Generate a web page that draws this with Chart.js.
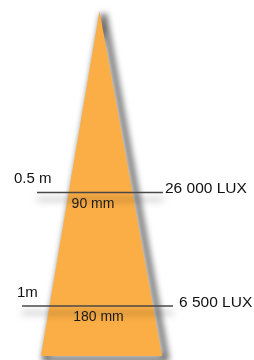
<!DOCTYPE html>
<html lang="en">
<head>
  <meta charset="UTF-8">
  <title>Light cone</title>
  <script src="https://cdn.jsdelivr.net/npm/chart.js@4/dist/chart.umd.min.js"></script>
  <style>
    html, body { margin: 0; padding: 0; background: #fff; overflow: hidden; }
    canvas { display: block; }
  </style>
</head>
<body>
<canvas id="myChart" width="254" height="360"></canvas>
<script>
    // measurements shown on the drawing
    const distances = [0.5, 1];            // metres from the lamp
    const distanceLabels = ['0.5 m', '1m'];
    const spotSizes = [90, 180];           // spot diameter, mm
    const luxValues = [26000, 6500];

    // drawing geometry (x in drawing units round the beam axis, y in metres)
    const cone = { tip: -0.30, base: 1.22, left: -58.5, right: 62.5 };
    const lineSpans = [[-62.5, 63.5], [-77.5, 73.5]];
    const labelX = [14, 17];       // px, left labels
    const luxX = [165, 179];       // px, right labels
    const spotX = [93, 98.5];      // px, centre of mm labels

    const FONT = '"Liberation Sans", Arial, Helvetica, sans-serif';

    function fmtLux(n) {
        return String(n).replace(/\B(?=(\d{3})+(?!\d))/g, ' ') + ' LUX';
    }

    const coneData = [
        {x: 0, y: cone.tip},
        {x: cone.right, y: cone.base},
        {x: cone.left, y: cone.base},
        {x: 0, y: cone.tip}
    ];

    const lineSets = distances.map((d, i) => ({
        label: 'line',
        data: [{x: lineSpans[i][0], y: d}, {x: lineSpans[i][1], y: d}],
        showLine: true,
        borderColor: '#484848',
        borderWidth: 1.5,
        pointRadius: 0,
        fill: false,
        clip: false,
        order: 1
    }));

    const shadows = {
        id: 'shadows',
        beforeDatasetDraw: (chart, args) => {
            const ctx = chart.ctx;
            const kind = chart.data.datasets[args.index].label;
            ctx.save();
            if (kind === 'beamShadow') {
                ctx.translate(4, 3);
                ctx.filter = 'blur(3px)';
            } else if (kind === 'line') {
                ctx.shadowColor = 'rgba(0,0,0,0.55)';
                ctx.shadowBlur = 7;
                ctx.shadowOffsetY = 7;
            }
        },
        afterDatasetDraw: (chart) => {
            chart.ctx.restore();
        },
        afterDraw: (chart) => {
            const ctx = chart.ctx;
            const ys = chart.scales.y;
            ctx.save();
            ctx.textBaseline = 'alphabetic';
            distances.forEach((d, i) => {
                const py = ys.getPixelForValue(d);
                ctx.fillStyle = '#111';
                ctx.font = '15px ' + FONT;
                ctx.textAlign = 'left';
                ctx.fillText(distanceLabels[i], labelX[i], py - 9);
                ctx.font = '15.5px ' + FONT;
                ctx.fillText(fmtLux(luxValues[i]), luxX[i], py + 1);
                ctx.fillStyle = '#1a1a1a';
                ctx.font = '14px ' + FONT;
                ctx.textAlign = 'center';
                ctx.fillText(spotSizes[i] + ' mm', spotX[i], py + 15.5);
            });
            ctx.restore();
        }
    };

    var ctx = document.getElementById('myChart');
    var myChart = new Chart(ctx, {
        type: 'scatter',
        data: {
            datasets: [{
                label: 'beam',
                data: coneData,
                showLine: true,
                borderWidth: 0,
                borderColor: 'rgba(0,0,0,0)',
                backgroundColor: '#fbae45',
                fill: 'shape',
                pointRadius: 0,
                tension: 0,
                clip: false,
                order: 3
            }, {
                label: 'beamShadow',
                data: coneData,
                showLine: true,
                borderWidth: 6,
                borderColor: 'rgba(0,0,0,0.6)',
                borderJoinStyle: 'round',
                fill: false,
                pointRadius: 0,
                tension: 0,
                clip: false,
                order: 4
            }].concat(lineSets)
        },
        options: {
            responsive: false,
            animation: false,
            layout: { padding: 0 },
            plugins: { legend: { display: false }, tooltip: { enabled: false } },
            scales: {
                x: { type: 'linear', display: false, min: -99.5, max: 154.5 },
                y: { type: 'linear', display: false, reverse: true, min: -0.348, max: 1.238 }
            }
        },
        plugins: [shadows]
    });
</script>
</body>
</html>
